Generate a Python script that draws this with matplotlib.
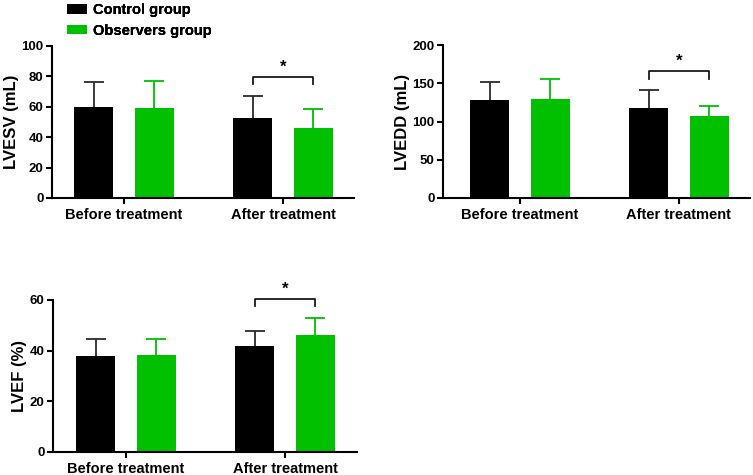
import numpy as np
import matplotlib
matplotlib.use("Agg")
import matplotlib.pyplot as plt
from matplotlib.patches import Patch

plt.rcParams["font.family"] = ["Liberation Sans", "DejaVu Sans"]
plt.rcParams["font.weight"] = "bold"
plt.rcParams["axes.labelweight"] = "bold"

groups = ["Before treatment", "After treatment"]
series = ["Control group", "Observers group"]

lvesv_control = [59.9, 52.8]
lvesv_control_sd = [16.6, 14.5]
lvesv_observer = [59.5, 45.8]
lvesv_observer_sd = [17.7, 12.5]

lvedd_control = [128.0, 118.0]
lvedd_control_sd = [24.0, 23.0]
lvedd_observer = [129.4, 107.6]
lvedd_observer_sd = [26.2, 12.7]

lvef_control = [38.0, 41.9]
lvef_control_sd = [6.6, 6.0]
lvef_observer = [38.2, 46.2]
lvef_observer_sd = [6.5, 6.8]

BLACK = "#000000"
GREEN = "#00C000"
ERR_BLACK = "#2b2b2b"

panels = [
    # (position px: left, top, right, bottom), xlim, ymax, ticks, label, data
    ((52, 46, 354, 198), (-0.453, 1.447), 100, [0, 20, 40, 60, 80, 100], "LVESV (mL)",
     lvesv_control, lvesv_control_sd, lvesv_observer, lvesv_observer_sd),
    ((443, 45, 750, 198), (-0.484, 1.447), 200, [0, 50, 100, 150, 200], "LVEDD (mL)",
     lvedd_control, lvedd_control_sd, lvedd_observer, lvedd_observer_sd),
    ((53, 300, 357, 452), (-0.459, 1.453), 60, [0, 20, 40, 60], "LVEF (%)",
     lvef_control, lvef_control_sd, lvef_observer, lvef_observer_sd),
]

W, H = 753, 475
fig = plt.figure(figsize=(W / 100, H / 100), dpi=100)

x = np.arange(len(groups))
bw = 0.245
off = 0.19


def upper_err(ax, xs, ys, sd, col):
    eb = ax.errorbar(xs, ys, yerr=[np.zeros(len(ys)), sd], fmt="none",
                     ecolor=col, elinewidth=1.3, capsize=7, capthick=1.3, zorder=1)
    # drop the cap sitting on the bar top
    eb[1][0].set_visible(False)


for (l, t, r, b), xlim, ymax, ticks, label, c, csd, o, osd in panels:
    ax = fig.add_axes([l / W, 1 - b / H, (r - l) / W, (b - t) / H])
    upper_err(ax, x - off, c, csd, ERR_BLACK)
    upper_err(ax, x + off, o, osd, GREEN)
    ax.bar(x - off, c, bw, color=BLACK, zorder=2)
    ax.bar(x + off, o, bw, color=GREEN, zorder=2)

    # significance bracket on "After treatment"
    top = max(c[1] + csd[1], o[1] + osd[1])
    yb = top + 0.125 * ymax
    ax.plot([1 - off, 1 - off, 1 + off, 1 + off],
            [yb - 0.05 * ymax, yb, yb, yb - 0.05 * ymax],
            color="#1a1a1a", lw=1.3, clip_on=False)
    ax.text(1, yb + 0.015 * ymax, "*", ha="center", va="bottom",
            fontsize=12, fontweight="bold")

    ax.set_xlim(*xlim)
    ax.set_ylim(0, ymax)
    ax.set_yticks(ticks)
    ax.set_xticks(x)
    ax.set_xticklabels(groups, fontsize=10.5, fontweight="bold")
    ax.tick_params(axis="y", labelsize=9.5, width=1.5, length=4, pad=2)
    ax.tick_params(axis="x", width=1.5, length=4, pad=3)
    for lab in ax.get_yticklabels():
        lab.set_fontweight("bold")
    ax.set_ylabel(label, fontsize=12, fontweight="bold", labelpad=2)
    for s in ["top", "right"]:
        ax.spines[s].set_visible(False)
    for s in ["left", "bottom"]:
        ax.spines[s].set_linewidth(1.5)

    handles = [Patch(facecolor=BLACK), Patch(facecolor=GREEN)]
    ax.legend(handles, series, loc="upper left",
              bbox_to_anchor=((67 - l) / (r - l), 1 + (t - 3) / (b - t)),
              frameon=False, prop={"weight": "bold", "size": 10.5},
              borderpad=0, borderaxespad=0, handlelength=1.4, handleheight=0.65,
              handletextpad=0.4, labelspacing=0.45)

fig.savefig("out.png", dpi=100)
